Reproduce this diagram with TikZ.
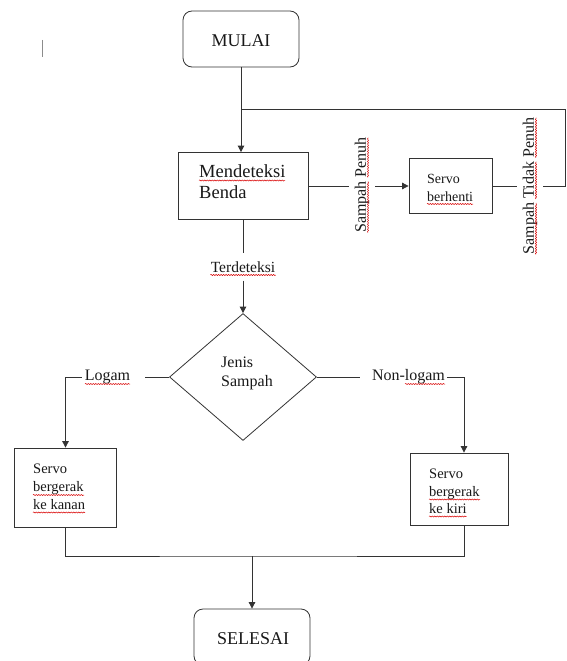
\documentclass[tikz,border=0pt]{standalone}
\usepackage{fontspec}
\setmainfont{Liberation Serif}
\usetikzlibrary{arrows.meta,shapes.geometric,decorations.pathmorphing}
\begin{document}
\begin{tikzpicture}[x=1pt,y=-1pt,
  line/.style={draw=black!80, line width=0.8pt},
  arr/.style={line, -{Triangle[length=6.5pt,width=6.5pt]}},
  term/.style={line, rectangle, rounded corners=9pt, minimum width=116pt, minimum height=56pt, inner sep=0},
  box/.style={line, rectangle, inner sep=0},
  dec/.style={line, diamond, inner sep=0, minimum width=147pt, minimum height=127pt},
  txt/.style={inner sep=0, anchor=base west, text=black!90},
  ctxt/.style={inner sep=0, anchor=base, text=black!90},
  lbl/.style={inner ysep=0, inner xsep=3pt, text=black!90, font=\fontsize{16}{19}\selectfont},
  vlbl/.style={rotate=90, inner xsep=0, inner ysep=6pt, text=black!90, font=\fontsize{16}{19}\selectfont},
  spell/.style={draw=red!85!black, line width=0.5pt, decorate, decoration={snake, segment length=2.5pt, amplitude=0.6pt}},
]
\fill[white] (0,0) rectangle (566,661);
\useasboundingbox (0,0) rectangle (566,661);

% cursor mark
\draw[black!45, line width=1.2pt] (42.5,40) -- (42.5,57);

% nodes
\node[term] (start) at (241,39) {};
\node[ctxt, font=\fontsize{18}{20}\selectfont] (starttxt) at (241,47) {MULAI};

\node[box, minimum width=130pt, minimum height=67pt] (detect) at (243,186) {};
\node[txt, font=\fontsize{18.5}{20}\selectfont] (dt1) at (199,177) {Mendeteksi};
\node[txt, font=\fontsize{18.5}{20}\selectfont] (dt2) at (199,198) {Benda};

\node[box, minimum width=83pt, minimum height=55pt] (stop) at (450.5,186) {};
\node[txt, font=\fontsize{14}{16}\selectfont] (st1) at (427,183) {Servo};
\node[txt, font=\fontsize{14}{16}\selectfont] (st2) at (427,201) {berhenti};

\node[vlbl] (full) at (362,185) {Sampah Penuh};
\node[vlbl] (notfull) at (530,186) {Sampah Tidak Penuh};

\coordinate (j1) at (241,109);
\coordinate (j2) at (565,109);
\coordinate (j3) at (565,186);

\node[lbl, inner ysep=8pt, font=\fontsize{15.5}{18}\selectfont] (terd) at (243,267) {Terdeteksi};

\node[dec] (type) at (243,377) {};
\node[txt, font=\fontsize{16}{19}\selectfont] (ty1) at (221,367) {Jenis};
\node[txt, font=\fontsize{16}{19}\selectfont] (ty2) at (221,386) {Sampah};

\node[lbl] (metal) at (107.5,377) {Logam};
\node[lbl, inner xsep=2pt] (nonmetal) at (408.5,377) {Non-logam};

\node[box, minimum width=102.5pt, minimum height=79pt] (lbox) at (65.5,487.5) {};
\node[txt, font=\fontsize{14.5}{17}\selectfont] (lb1) at (33,473) {Servo};
\node[txt, font=\fontsize{14.5}{17}\selectfont] (lb2) at (33,491) {bergerak};
\node[txt, font=\fontsize{14.5}{17}\selectfont] (lb3) at (33,509) {ke kanan};

\node[box, minimum width=98pt, minimum height=72pt] (rbox) at (459,489) {};
\node[txt, font=\fontsize{14.5}{17}\selectfont] (rb1) at (429,478) {Servo};
\node[txt, font=\fontsize{14.5}{17}\selectfont] (rb2) at (429,496) {bergerak};
\node[txt, font=\fontsize{14.5}{17}\selectfont] (rb3) at (429,513) {ke kiri};

\coordinate (mj) at (252,556);
\node[term] (end) at (252,637) {};
\node[ctxt, font=\fontsize{18}{20}\selectfont] (endtxt) at (253,644) {SELESAI};

% connectors
\draw[line] (start.south) -- (j1);
\draw[arr] (j1) -- (j1 |- detect.north);
\draw[line] (detect.east) -- (detect.east -| full.north);
\draw[arr] (detect.east -| full.south) -- (stop.west);
\draw[line] (stop.east) -- (stop.east -| notfull.north);
\draw[line] (notfull.south |- j3) -- (j3) -- (j2) -- (j1);

\draw[line] (detect.south) -- (detect.south |- terd.north);
\draw[arr] (terd.south) -- (type.north);

\draw[line] (type.west) -- ([xshift=12pt]metal.east);
\draw[arr] (metal.west) -| (lbox.north);
\draw[line] (type.east) -- ([xshift=-10pt]nonmetal.west);
\draw[arr] (nonmetal.east) -| ([xshift=5pt]rbox.north);

\draw[line] (lbox.south) |- (mj) -| ([xshift=5pt]rbox.south);
\draw[arr] (mj) -- (end.north);

% spell-check underlines
\draw[spell] (199,180.5) -- (285,180.5);
\draw[spell] (427,204) -- (473,204);
\draw[spell] (368,232.5) -- (368,181.3);
\draw[spell] (368,177.3) -- (368,137.5);
\draw[spell] (536,254.4) -- (536,202.9);
\draw[spell] (536,198.9) -- (536,161.6);
\draw[spell] (536,157.6) -- (536,117.6);
\draw[spell] (210.3,275) -- (275.7,275);
\draw[spell] (85,384) -- (130,384);
\draw[spell] (405,384) -- (445,384);
\draw[spell] (33,495) -- (84,495);
\draw[spell] (33,512.5) -- (85,512.5);
\draw[spell] (429,499.5) -- (480,499.5);
\draw[spell] (429,516.5) -- (466.5,516.5);
\end{tikzpicture}
\end{document}
